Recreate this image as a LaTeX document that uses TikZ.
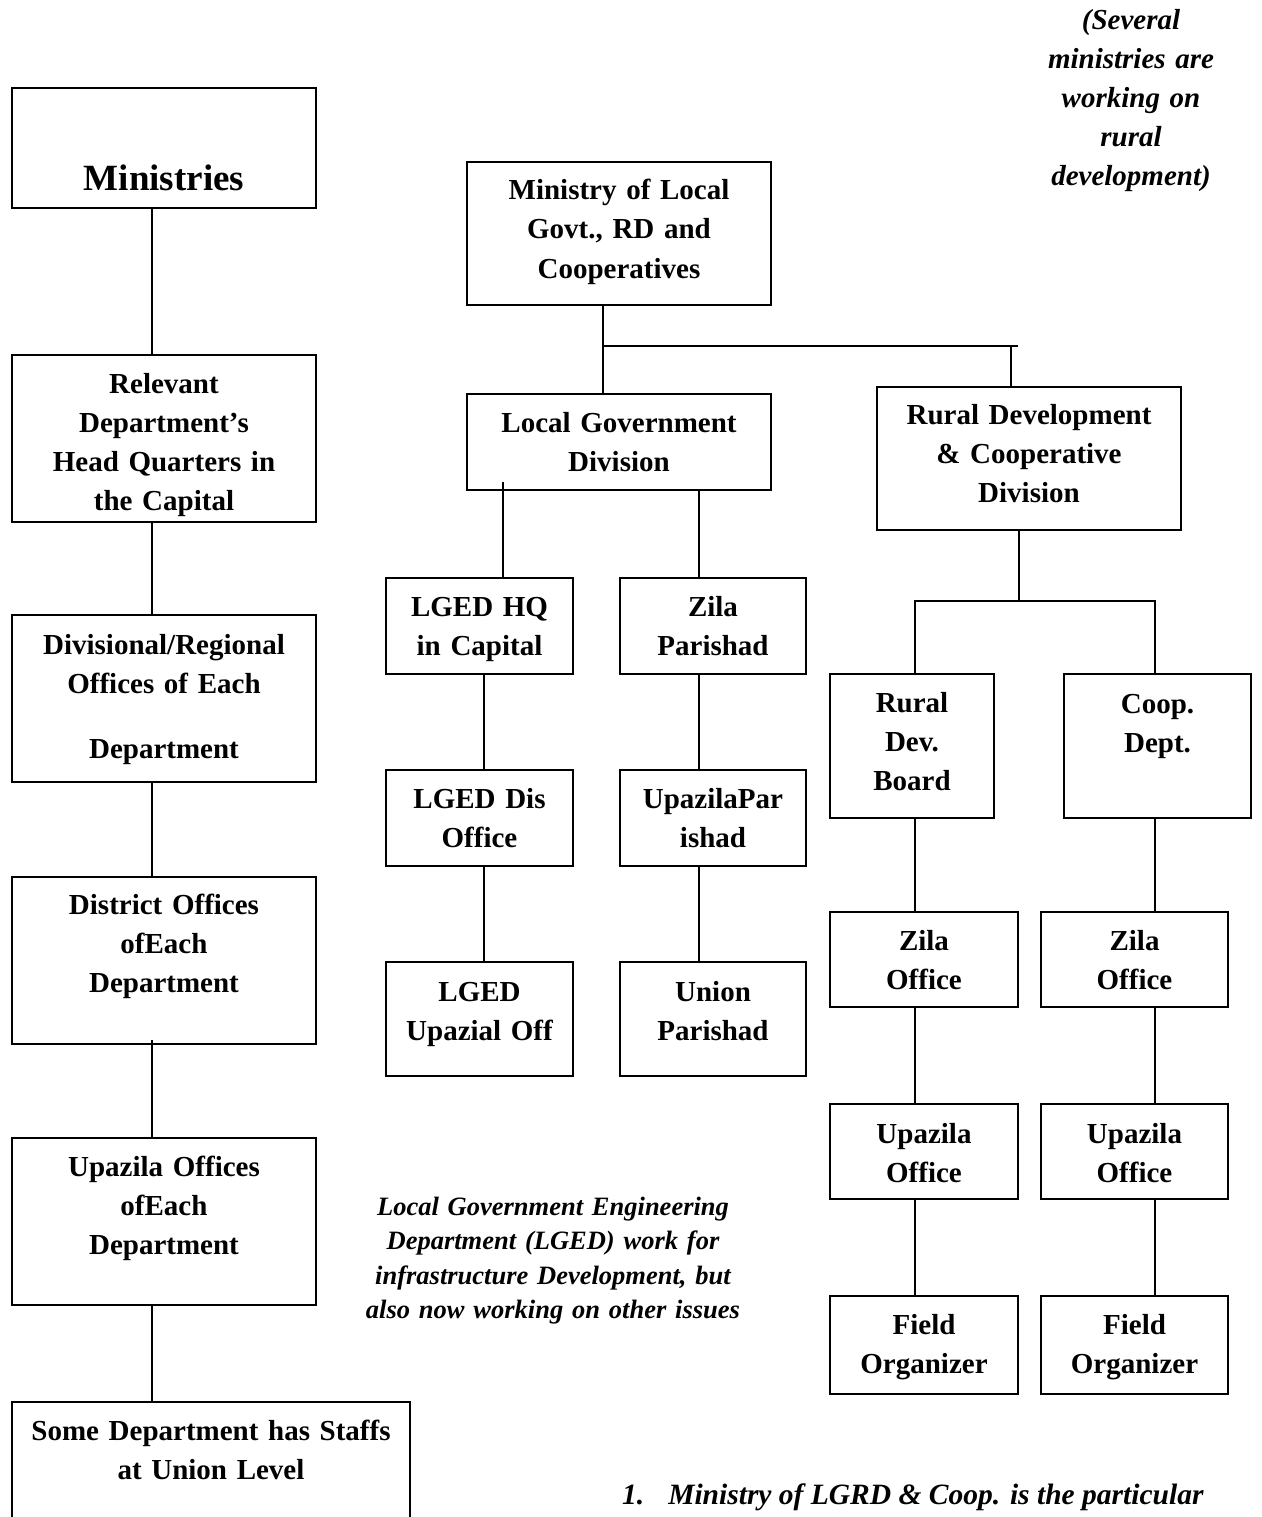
\documentclass[tikz,border=0pt]{standalone}
\usepackage{fontspec}
\setmainfont{Liberation Serif}
\begin{document}
\begin{tikzpicture}[x=1pt,y=-1pt,
  box/.style={draw,line width=1.5pt,inner sep=0pt,outer sep=0pt},
  lbl/.style={font=\bfseries\fontsize{29}{39}\selectfont,text width=400pt,align=center,anchor=base,inner sep=0pt},
  note/.style={font=\bfseries\itshape\fontsize{29}{39}\selectfont,text width=400pt,align=center,anchor=base,inner sep=0pt},
  conn/.style={line width=1.5pt}]
\useasboundingbox (0,0) rectangle (1261,1517);
% ---------- left column ----------
\node[box,minimum width=304pt,minimum height=120pt] (min) at (164,148) {};
\node[box,minimum width=304pt,minimum height=167pt] (rel) at (164,438.5) {};
\node[box,minimum width=304pt,minimum height=167pt] (div) at (164,698.5) {};
\node[box,minimum width=304pt,minimum height=167pt] (dist) at (164,960.5) {};
\node[box,minimum width=304pt,minimum height=167pt] (upa) at (164,1221.5) {};
\node[box,minimum width=398pt,minimum height=158pt] (some) at (211,1481) {};
\node[lbl,font=\bfseries\fontsize{37}{44}\selectfont] (tmin) at (164,190) {Ministries};
\node[lbl] (trel) at (164,393) {Relevant\\Department’s\\Head Quarters in\\the Capital};
\node[lbl] (tdiv) at (164,654) {Divisional/Regional\\Offices of Each\\[26pt]Department};
\node[lbl] (tdist) at (164,914) {District Offices\\ofEach\\Department};
\node[lbl] (tupa) at (164,1176) {Upazila Offices\\ofEach\\Department};
\node[lbl] (tsome) at (211,1440) {Some Department has Staffs\\at Union Level};
\draw[conn] ([xshift=-12pt]min.south) -- ([xshift=-12pt]rel.north);
\draw[conn] ([xshift=-12pt]rel.south) -- ([xshift=-12pt]div.north);
\draw[conn] ([xshift=-12pt]div.south) -- ([xshift=-12pt]dist.north);
\draw[conn] ([xshift=-12pt,yshift=4pt]dist.south) -- ([xshift=-12pt]upa.north);
\draw[conn] ([xshift=-12pt]upa.south) -- ([xshift=-12pt]upa.south |- some.north);
% ---------- middle ----------
\node[box,minimum width=304pt,minimum height=143pt] (mlg) at (619,233.5) {};
\node[box,minimum width=304pt,minimum height=96pt] (lgd) at (619,442) {};
\node[box,minimum width=187pt,minimum height=96pt] (hq) at (479.5,626) {};
\node[box,minimum width=186pt,minimum height=96pt] (zp) at (713,626) {};
\node[box,minimum width=187pt,minimum height=96pt] (dis) at (479.5,818) {};
\node[box,minimum width=186pt,minimum height=96pt] (upp) at (713,818) {};
\node[box,minimum width=187pt,minimum height=114pt] (luo) at (479.5,1019) {};
\node[box,minimum width=186pt,minimum height=114pt] (up) at (713,1019) {};
\node[lbl] (tmlg) at (619,200) {Ministry of Local\\Govt., RD and\\Cooperatives};
\node[lbl] (tlgd) at (619,432) {Local Government\\Division};
\node[lbl] (thq) at (479.5,616) {LGED HQ\\in Capital};
\node[lbl] (tzp) at (713,616) {Zila\\Parishad};
\node[lbl] (tdis) at (479.5,808) {LGED Dis\\Office};
\node[lbl] (tupp) at (713,808) {UpazilaPar\\ishad};
\node[lbl] (tluo) at (479.5,1001) {LGED\\Upazial Off};
\node[lbl] (tup) at (713,1001) {Union\\Parishad};
\coordinate (j1) at ([xshift=-16pt]mlg.south |- 0,346);
\coordinate (j1e) at (1018,346);
\draw[conn] ([xshift=-16pt]mlg.south) -- ([xshift=-16pt]lgd.north);
\draw[conn] (j1) -- (j1e);
% ---------- right ----------
\node[box,minimum width=304pt,minimum height=143pt] (rdcd) at (1029,458.5) {};
\node[box,minimum width=164pt,minimum height=144pt] (rdb) at (912,746) {};
\node[box,minimum width=187pt,minimum height=144pt] (coop) at (1157.5,746) {};
\node[box,minimum width=188pt,minimum height=95pt] (zo1) at (924,959.5) {};
\node[box,minimum width=187pt,minimum height=95pt] (zo2) at (1134.5,959.5) {};
\node[box,minimum width=188pt,minimum height=95pt] (uo1) at (924,1151.5) {};
\node[box,minimum width=187pt,minimum height=95pt] (uo2) at (1134.5,1151.5) {};
\node[box,minimum width=188pt,minimum height=98pt] (fo1) at (924,1345) {};
\node[box,minimum width=187pt,minimum height=98pt] (fo2) at (1134.5,1345) {};
\node[lbl] (trdcd) at (1029,424) {Rural Development\\\& Cooperative\\Division};
\node[lbl] (trdb) at (912,712) {Rural\\Dev.\\Board};
\node[lbl] (tcoop) at (1157.5,713) {Coop.\\Dept.};
\node[lbl] (tzo1) at (924,950) {Zila\\Office};
\node[lbl] (tzo2) at (1134.5,950) {Zila\\Office};
\node[lbl] (tuo1) at (924,1143) {Upazila\\Office};
\node[lbl] (tuo2) at (1134.5,1143) {Upazila\\Office};
\node[lbl] (tfo1) at (924,1334) {Field\\Organizer};
\node[lbl] (tfo2) at (1134.5,1334) {Field\\Organizer};
\draw[conn] ([xshift=-18pt]rdcd.north |- j1) -- ([xshift=-18pt]rdcd.north);
\coordinate (j2) at ([xshift=-10pt]rdcd.south |- 0,601);
\draw[conn] ([xshift=-10pt]rdcd.south) -- (j2);
\draw[conn] ([xshift=3pt]rdb.north) |- ([xshift=-2.5pt]coop.north |- j2) -- ([xshift=-2.5pt]coop.north);
% lgd children
\draw[conn] ([xshift=23.5pt]hq.north |- 0,482) -- ([xshift=23.5pt]hq.north);
\draw[conn] ([xshift=-14pt]zp.north |- lgd.south) -- ([xshift=-14pt]zp.north);
\draw[conn] ([xshift=4.5pt]hq.south) -- ([xshift=4.5pt]dis.north);
\draw[conn] ([xshift=4.5pt]dis.south) -- ([xshift=4.5pt]luo.north);
\draw[conn] ([xshift=-14pt]zp.south) -- ([xshift=-14pt]upp.north);
\draw[conn] ([xshift=-14pt]upp.south) -- ([xshift=-14pt]up.north);
% rd children
\draw[conn] ([xshift=3pt]rdb.south) -- ([xshift=3pt]rdb.south |- zo1.north);
\draw[conn] ([xshift=-9pt]zo1.south) -- ([xshift=-9pt]uo1.north);
\draw[conn] ([xshift=-9pt]uo1.south) -- ([xshift=-9pt]fo1.north);
\draw[conn] ([xshift=-2.5pt]coop.south) -- ([xshift=-2.5pt]coop.south |- zo2.north);
\draw[conn] ([xshift=20.5pt]zo2.south) -- ([xshift=20.5pt]uo2.north);
\draw[conn] ([xshift=20.5pt]uo2.south) -- ([xshift=20.5pt]fo2.north);
% ---------- notes ----------
\node[note] (nsev) at (1131,30) {(Several\\ministries are\\working on\\rural\\development)};
\node[note,font=\bfseries\itshape\fontsize{26.5}{34.5}\selectfont] (nlged) at (553,1215) {Local Government Engineering\\Department (LGED) work for\\infrastructure Development, but\\also now working on other issues};
\node[font=\bfseries\itshape\fontsize{29.5}{39}\selectfont,anchor=base west,inner sep=0pt] (nbot) at (622,1504) {1.\hspace*{24pt}Ministry of LGRD \& Coop. is the particular};
\end{tikzpicture}
\end{document}
